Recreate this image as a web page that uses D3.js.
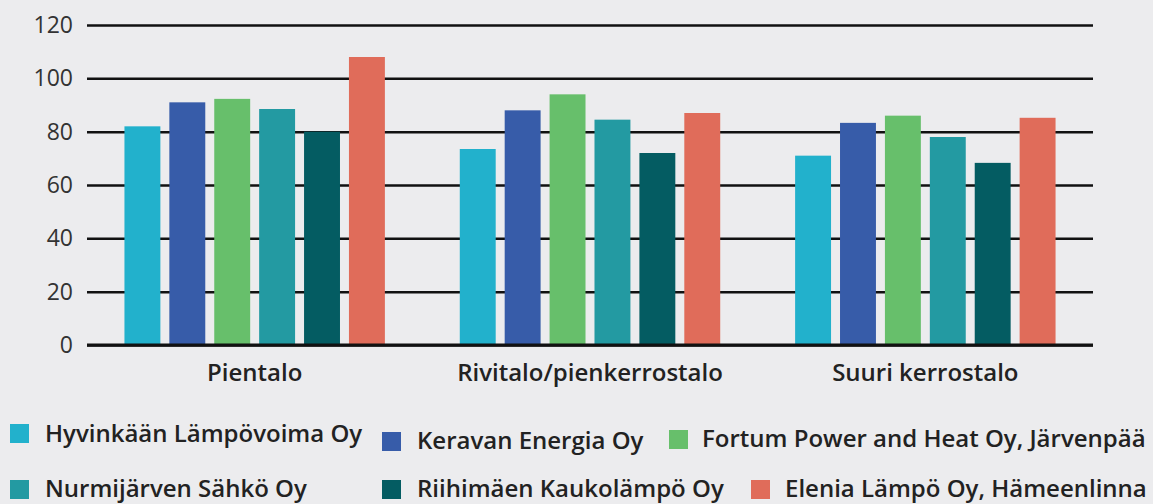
<!DOCTYPE html>
<html>
<head>
<meta charset="utf-8">
<script src="https://cdn.jsdelivr.net/npm/d3@7"></script>
<style>
  html, body { margin: 0; padding: 0; background: #ececee; }
  svg { display: block; font-family: "Open Sans", sans-serif; }
</style>
</head>
<body>
<svg id="chart" width="1153" height="504"></svg>
<script>
const categories = ["Pientalo", "Rivitalo/pienkerrostalo", "Suuri kerrostalo"];
const companies = [
  "Hyvinkään Lämpövoima Oy",
  "Keravan Energia Oy",
  "Fortum Power and Heat Oy, Järvenpää",
  "Nurmijärven Sähkö Oy",
  "Riihimäen Kaukolämpö Oy",
  "Elenia Lämpö Oy, Hämeenlinna"
];
// values per company, in category order
const hyvinkaa = [82, 73.5, 71];
const kerava = [91, 88, 83.3];
const fortum = [92.3, 94, 86];
const nurmijarvi = [88.5, 84.5, 78];
const riihimaki = [80, 72, 68.3];
const elenia = [108, 87, 85.2];
const yTicks = [0, 20, 40, 60, 80, 100, 120];

const series = [hyvinkaa, kerava, fortum, nurmijarvi, riihimaki, elenia];
const colors = ["#22b1cc", "#375ca9", "#67bf6b", "#239aa2", "#045c62", "#e06c5a"];

// legend layout (square x, square y, text x, text baseline)
const legendPos = [
  [10, 424, 45, 442],
  [382, 432, 417, 449],
  [669, 430, 702, 447],
  [10, 480, 45, 497],
  [382, 480, 417, 497],
  [751, 480, 785, 497]
];

const width = 1153;
const margin = { left: 87, right: 60, top: 25, bottom: 345 };

const svg = d3.select("#chart");

const x = d3.scaleBand()
  .domain(categories)
  .range([margin.left, width - margin.right])
  .padding(0);

const xInner = d3.scaleBand()
  .domain(d3.range(companies.length))
  .range([0, x.bandwidth()])
  .paddingInner(0.2)
  .paddingOuter(0.834);

const y = d3.scaleLinear()
  .domain([0, 120])
  .range([margin.bottom, margin.top]);

// Gridlines + y labels
const yAxis = d3.axisLeft(y)
  .tickValues(yTicks)
  .tickSize(-(width - margin.right - margin.left))
  .tickPadding(14);

const yg = svg.append("g")
  .attr("transform", `translate(${margin.left},0)`)
  .call(yAxis);
yg.select(".domain").remove();
yg.selectAll(".tick line")
  .attr("stroke", "#111")
  .attr("stroke-width", 2.5);
yg.selectAll(".tick text")
  .attr("fill", "#333")
  .attr("font-size", "23px")
  .attr("font-family", "Open Sans, sans-serif");

// Bars
const groups = svg.append("g")
  .selectAll("g")
  .data(categories)
  .join("g")
  .attr("transform", d => `translate(${x(d)},0)`);

groups.selectAll("rect")
  .data((d, ci) => series.map((s, si) => ({ si, v: s[ci] })))
  .join("rect")
  .attr("x", d => xInner(d.si))
  .attr("width", xInner.bandwidth())
  .attr("y", d => y(d.v))
  .attr("height", d => y(0) - y(d.v))
  .attr("fill", d => colors[d.si]);

// Baseline on top of bars
svg.append("line")
  .attr("x1", margin.left)
  .attr("x2", width - margin.right)
  .attr("y1", y(0))
  .attr("y2", y(0))
  .attr("stroke", "#111")
  .attr("stroke-width", 3);

// Category labels
svg.append("g")
  .selectAll("text")
  .data(categories)
  .join("text")
  .attr("x", d => x(d) + x.bandwidth() / 2)
  .attr("y", 381)
  .attr("text-anchor", "middle")
  .attr("font-size", "24px")
  .attr("font-weight", 600)
  .attr("fill", "#222")
  .text(d => d);

// Legend
const legend = svg.append("g");
companies.forEach((name, i) => {
  const [sx, sy, tx, ty] = legendPos[i];
  legend.append("rect")
    .attr("x", sx)
    .attr("y", sy)
    .attr("width", 19)
    .attr("height", 19)
    .attr("fill", colors[i]);
  legend.append("text")
    .attr("x", tx)
    .attr("y", ty)
    .attr("font-size", "24px")
    .attr("font-weight", 600)
    .attr("fill", "#222")
    .text(name);
});
</script>
</body>
</html>
